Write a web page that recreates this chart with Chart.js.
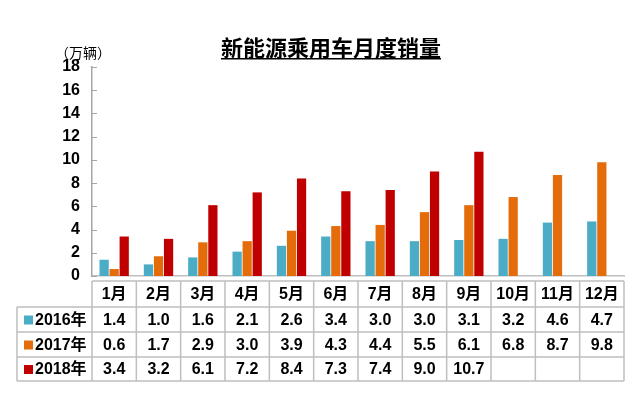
<!DOCTYPE html>
<html>
<head>
<meta charset="utf-8">
<script src="https://cdn.jsdelivr.net/npm/chart.js@4/dist/chart.umd.min.js"></script>
<style>
  html, body { margin: 0; padding: 0; background: #fff; }
  #wrap { width: 640px; height: 395px; position: relative; }
</style>
</head>
<body>
<div id="wrap"><canvas id="c" width="640" height="395"></canvas></div>
<script>
// 数据
const months = ['1月', '2月', '3月', '4月', '5月', '6月', '7月', '8月', '9月', '10月', '11月', '12月'];
const seriesNames = ['2016年', '2017年', '2018年'];
const sales2016 = [1.4, 1.0, 1.6, 2.1, 2.6, 3.4, 3.0, 3.0, 3.1, 3.2, 4.6, 4.7];
const sales2017 = [0.6, 1.7, 2.9, 3.0, 3.9, 4.3, 4.4, 5.5, 6.1, 6.8, 8.7, 9.8];
const sales2018 = [3.4, 3.2, 6.1, 7.2, 8.4, 7.3, 7.4, 9.0, 10.7, null, null, null];
const yTicks = [0, 2, 4, 6, 8, 10, 12, 14, 16, 18];
const colors = ['#4BACC6', '#E46C0A', '#C00000'];

const FONT = '"Liberation Sans", Arial, "Noto Sans CJK SC", sans-serif';
const GRID = '#BFBFBF';

// 标题、单位、刻度线和下方数据表
const tablePlugin = {
  id: 'tablePlugin',
  afterDraw(chart) {
    const ctx = chart.ctx;
    const area = chart.chartArea;
    const x = chart.scales.x;
    const y = chart.scales.y;
    ctx.save();

    // 标题
    ctx.fillStyle = '#000';
    ctx.font = 'bold 22px ' + FONT;
    ctx.textAlign = 'center';
    ctx.textBaseline = 'alphabetic';
    const title = '新能源乘用车月度销量';
    ctx.fillText(title, 331, 56);
    const tw = ctx.measureText(title).width;
    ctx.fillRect(331 - tw / 2, 58, tw, 1.5);

    // 单位
    ctx.font = '14px "Noto Sans CJK SC", sans-serif';
    ctx.textAlign = 'left';
    ctx.textBaseline = 'middle';
    ctx.fillText('（万辆）', 55, 53);

    // 朝内的刻度线
    ctx.strokeStyle = '#A6A6A6';
    ctx.lineWidth = 1;
    yTicks.forEach(v => {
      const py = Math.round(y.getPixelForValue(v)) + 0.5;
      ctx.beginPath();
      ctx.moveTo(area.left, py);
      ctx.lineTo(area.left + 5, py);
      ctx.stroke();
    });

    // 数据表
    const rows = [281, 307, 332, 357, 381];
    const left = area.left;
    const right = area.right;
    const labelLeft = 17;
    const colW = (right - left) / months.length;
    ctx.strokeStyle = GRID;
    ctx.lineWidth = 1.5;
    ctx.beginPath();
    // 横线
    ctx.moveTo(left, rows[0]); ctx.lineTo(right, rows[0]);
    for (let i = 1; i < rows.length; i++) {
      ctx.moveTo(labelLeft, rows[i]); ctx.lineTo(right, rows[i]);
    }
    // 竖线
    ctx.moveTo(labelLeft, rows[1]); ctx.lineTo(labelLeft, rows[4]);
    for (let j = 0; j <= months.length; j++) {
      const px = left + j * colW;
      ctx.moveTo(px, rows[0]); ctx.lineTo(px, rows[4]);
    }
    ctx.stroke();

    ctx.fillStyle = '#000';
    ctx.font = 'bold 16px ' + FONT;
    ctx.textAlign = 'center';
    ctx.textBaseline = 'middle';
    months.forEach((m, j) => {
      ctx.fillText(m, x.getPixelForValue(j), (rows[0] + rows[1]) / 2 + 1);
    });
    chart.data.datasets.forEach((ds, i) => {
      const cy = (rows[i + 1] + rows[i + 2]) / 2 + 1;
      ds.data.forEach((v, j) => {
        if (v === null) return;
        ctx.fillText(v.toFixed(1), x.getPixelForValue(j), cy);
      });
      // 图例方块与系列名
      ctx.fillStyle = colors[i];
      ctx.fillRect(24, cy - 5, 9, 9);
      ctx.fillStyle = '#000';
      ctx.textAlign = 'left';
      ctx.fillText(seriesNames[i], 35, cy);
      ctx.textAlign = 'center';
    });

    ctx.restore();
  }
};

new Chart(document.getElementById('c'), {
  type: 'bar',
  data: {
    labels: months,
    datasets: [
      { label: seriesNames[0], data: sales2016, backgroundColor: colors[0] },
      { label: seriesNames[1], data: sales2017, backgroundColor: colors[1] },
      { label: seriesNames[2], data: sales2018, backgroundColor: colors[2] }
    ]
  },
  options: {
    responsive: false,
    animation: false,
    layout: { padding: { left: 0, top: 67, right: 16, bottom: 119 } },
    datasets: {
      bar: { categoryPercentage: 0.68, barPercentage: 0.92 }
    },
    plugins: {
      legend: { display: false },
      tooltip: { enabled: false }
    },
    scales: {
      x: {
        afterFit(scale) { scale.height = 0; },
        ticks: { display: false },
        grid: { display: false, drawTicks: false },
        border: { display: true, color: GRID, width: 1.5 }
      },
      y: {
        min: 0,
        max: 18,
        afterFit(scale) { scale.width = 92; },
        afterBuildTicks(scale) { scale.ticks = yTicks.map(v => ({ value: v })); },
        ticks: {
          padding: 12,
          color: '#000',
          font: { family: FONT, size: 16, weight: 'bold' }
        },
        grid: { display: false, drawTicks: false },
        border: { display: true, color: '#A6A6A6', width: 1.5 }
      }
    }
  },
  plugins: [tablePlugin]
});
</script>
</body>
</html>
